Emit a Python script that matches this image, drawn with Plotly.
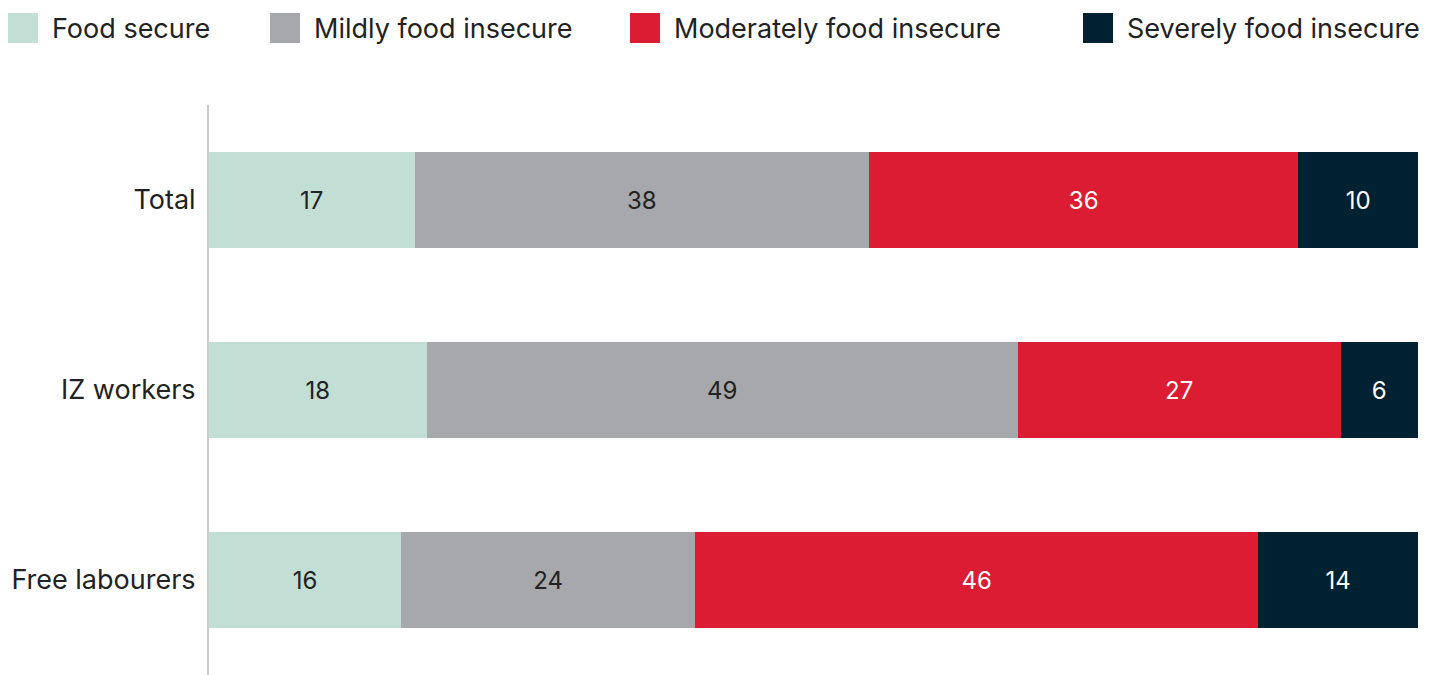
import plotly.graph_objects as go

categories = ["Total", "IZ workers", "Free labourers"]
series_names = ["Food secure", "Mildly food insecure", "Moderately food insecure", "Severely food insecure"]
food_secure = [17.0, 18.0, 15.9]
mildly = [37.6, 48.9, 24.3]
moderately = [35.5, 26.7, 46.6]
severely = [9.9, 6.4, 13.2]
labels_food_secure = ["17", "18", "16"]
labels_mildly = ["38", "49", "24"]
labels_moderately = ["36", "27", "46"]
labels_severely = ["10", "6", "14"]

values = [food_secure, mildly, moderately, severely]
labels = [labels_food_secure, labels_mildly, labels_moderately, labels_severely]
colors = ["#C2DED5", "#A7A8AB", "#DC1C32", "#002132"]
text_colors = ["#222222", "#222222", "#FFFFFF", "#FFFFFF"]
FONT = "Inter, Lato, sans-serif"

fig = go.Figure()
for name, vals, labs, col, tcol in zip(series_names, values, labels, colors, text_colors):
    fig.add_trace(go.Bar(
        y=categories, x=vals, name=name, orientation="h",
        marker=dict(color=col, line=dict(width=0)),
        text=labs, textposition="inside", insidetextanchor="middle",
        textfont=dict(color=tcol, size=24, family=FONT),
        constraintext="none", showlegend=False, hoverinfo="skip",
    ))

# custom legend (large square swatches)
legend_x = [8, 270, 630, 1083]
W, H = 1438, 675
PW, PH = W - 209 - 20, H - 105
shapes = []
annotations = []
for name, col, lx in zip(series_names, colors, legend_x):
    shapes.append(dict(type="rect", xref="paper", yref="paper",
                       x0=(lx - 209) / PW, x1=(lx + 30 - 209) / PW,
                       y0=1 + (105 - 43) / PH, y1=1 + (105 - 13) / PH,
                       fillcolor=col, line=dict(width=0)))
    annotations.append(dict(xref="paper", yref="paper",
                            x=(lx + 42 - 209) / PW, y=1 + (105 - 28) / PH,
                            xanchor="left", yanchor="middle", showarrow=False,
                            text=name, font=dict(size=27, color="#222222", family=FONT)))

fig.update_layout(
    barmode="stack", bargap=0.495,
    width=W, height=H,
    margin=dict(l=209, r=20, t=105, b=0),
    paper_bgcolor="white", plot_bgcolor="white",
    font=dict(family=FONT, color="#222222"),
    shapes=shapes, annotations=annotations,
    xaxis=dict(range=[0, 100], visible=False, fixedrange=True),
    yaxis=dict(categoryorder="array", categoryarray=categories, range=[2.5, -0.5],
               showline=True, linecolor="#CCCCCC", linewidth=2, showgrid=False,
               zeroline=False, ticks="", ticklabelstandoff=6,
               tickfont=dict(size=27, color="#222222", family=FONT)),
)

fig.write_html("out.html")
